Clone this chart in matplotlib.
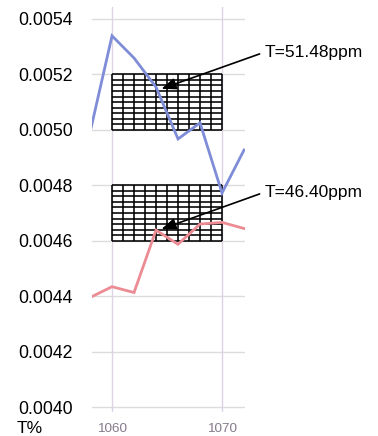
import matplotlib
matplotlib.use("Agg")
import matplotlib.pyplot as plt
import numpy as np

plt.rcParams['font.family'] = ['Liberation Sans', 'DejaVu Sans']

# data
x_vals = [1058, 1060, 1062, 1064, 1066, 1068, 1070, 1072]
blue_vals = [0.00499, 0.005339, 0.005259, 0.005154, 0.004967, 0.005025, 0.004772, 0.004927]
red_vals = [0.004395, 0.004434, 0.004413, 0.004638, 0.004587, 0.004660, 0.004666, 0.004644]
y_ticks = [0.0040, 0.0042, 0.0044, 0.0046, 0.0048, 0.0050, 0.0052, 0.0054]
x_ticks = [1060, 1070]
box_x = (1060, 1070)
box_y_ranges = [(0.0050, 0.0052), (0.0046, 0.0048)]
n_cols, n_rows = 10, 10
ann_texts = ["T=51.48ppm", "T=46.40ppm"]
ann_points = [(1064.5, 0.005148), (1064.5, 0.004642)]
ann_text_px = [(265, 384), (265, 244)]

fig = plt.figure(figsize=(3.78, 4.36), dpi=100)
ax = fig.add_axes([92/378, 1-412/436, 153/378, 405/436])
ax.set_xlim(1058.18, 1072.09)
ax.set_ylim(0.003982, 0.005443)

for s in ax.spines.values():
    s.set_visible(False)

ax.set_yticks(y_ticks)
ax.set_yticklabels([f"{v:.4f}" for v in y_ticks])
ax.set_xticks(x_ticks)
ax.set_xticklabels([str(v) for v in x_ticks])
ax.tick_params(axis='y', length=0, pad=14, labelsize=12.7, labelcolor='black')
ax.tick_params(axis='x', length=0, pad=8, labelsize=9.7, labelcolor='#857a8c')

for v in y_ticks:
    ax.axhline(v, color='#dcdcdc', lw=1.0, zorder=0)
for v in x_ticks:
    ax.axvline(v, color='#dcd4e4', lw=1.0, zorder=0)

# hatched grid boxes
for (y0, y1) in box_y_ranges:
    xs = np.linspace(box_x[0], box_x[1], n_cols + 1)
    ys = np.linspace(y0, y1, n_rows + 1)
    ax.vlines(xs, y0, y1, color='black', lw=1.15, zorder=2)
    ax.hlines(ys, box_x[0], box_x[1], color='black', lw=1.15, zorder=2)

ax.plot(x_vals, blue_vals, color='#7f8cd8', lw=2.0, zorder=3, solid_joinstyle='miter')
ax.plot(x_vals, red_vals, color='#ec8b93', lw=2.0, zorder=3, solid_joinstyle='miter')

for txt, pt, tp in zip(ann_texts, ann_points, ann_text_px):
    ax.annotate(txt, xy=pt, xytext=tp, textcoords='figure pixels',
                fontsize=12.5, va='center', ha='left', annotation_clip=False,
                arrowprops=dict(arrowstyle='-|>,head_length=0.7,head_width=0.28',
                                color='black', lw=1.2, shrinkA=2, shrinkB=0,
                                relpos=(0.0, 0.5)),
                zorder=5)

fig.text(30/378, 1-428/436, "T%", fontsize=12.5, ha='center', va='center')

fig.savefig("out.png", dpi=100)
